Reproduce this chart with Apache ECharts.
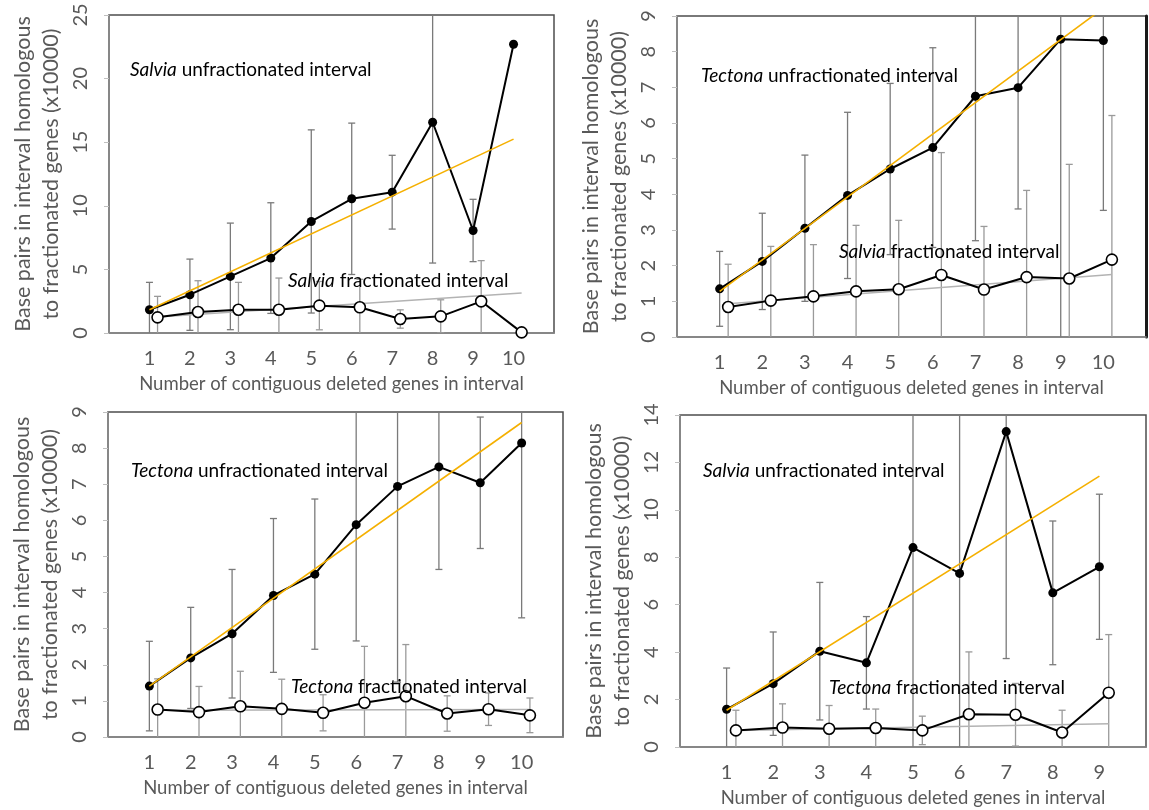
<!DOCTYPE html>
<html>
<head>
<meta charset="utf-8">
<script src="https://cdn.jsdelivr.net/npm/echarts@6/dist/echarts.min.js"></script>
<style>
html,body{margin:0;padding:0;background:#fff}
#main{width:1149px;height:810px}
</style>
</head>
<body>
<div id="main"></div>
<script>
// x categories: number of contiguous deleted genes
var cats10 = [1, 2, 3, 4, 5, 6, 7, 8, 9, 10];
var cats9 = [1, 2, 3, 4, 5, 6, 7, 8, 9];

// top left: Salvia unfractionated / Salvia fractionated (x10000 bp)
var aUnfrac    = [1.83, 3.01, 4.45, 5.89, 8.77, 10.55, 11.07, 16.57, 8.06, 22.70];
var aUnfracErr = [2.15, 2.80, 4.19, 4.35, 7.20, 5.95, 2.90, 11.07, 2.45, 0];
var aFrac      = [1.23, 1.65, 1.83, 1.83, 2.15, 2.02, 1.10, 1.31, 2.49, 0.05];
var aFracErr   = [1.65, 2.46, 2.15, 2.49, 1.90, 2.20, 0.72, 1.30, 3.20, 0];
var aOrange    = [1.83, 15.24];   // trend, first and last category
var aGray      = [1.25, 3.14];

// top right: Tectona unfractionated / Salvia fractionated
var bUnfrac    = [1.35, 2.12, 3.05, 3.97, 4.71, 5.31, 6.75, 6.99, 8.35, 8.31];
var bUnfracErr = [1.05, 1.35, 2.05, 2.33, 2.40, 2.80, 4.05, 3.40, 8.40, 4.76];
var bFrac      = [0.84, 1.02, 1.14, 1.28, 1.34, 1.74, 1.33, 1.68, 1.64, 2.17];
var bFracErr   = [1.20, 1.52, 1.45, 1.85, 1.93, 3.43, 1.77, 2.43, 3.20, 4.04];
var bOrange    = [1.28, 9.22];
var bGray      = [0.93, 1.75];

// bottom left: Tectona unfractionated / Tectona fractionated
var cUnfrac    = [1.41, 2.19, 2.86, 3.92, 4.51, 5.88, 6.94, 7.48, 7.04, 8.14];
var cUnfracErr = [1.24, 1.40, 1.78, 2.13, 2.08, 3.22, 5.42, 2.84, 1.82, 4.84];
var cFrac      = [0.76, 0.69, 0.85, 0.78, 0.67, 0.95, 1.13, 0.65, 0.77, 0.60];
var cFracErr   = [0.85, 0.71, 0.97, 0.82, 0.50, 1.56, 1.43, 0.49, 0.45, 0.48];
var cOrange    = [1.41, 8.71];
var cGray      = [0.74, 0.76];

// bottom right: Salvia unfractionated / Tectona fractionated
var dUnfrac    = [1.59, 2.67, 4.04, 3.55, 8.41, 7.32, 13.30, 6.50, 7.60];
var dUnfracErr = [1.74, 2.18, 2.90, 1.95, 8.60, 7.50, 9.57, 3.03, 3.06];
var dFrac      = [0.70, 0.82, 0.77, 0.80, 0.70, 1.38, 1.36, 0.61, 2.29];
var dFracErr   = [0.85, 1.00, 0.98, 0.80, 0.60, 2.63, 1.32, 0.94, 2.45];
var dOrange    = [1.55, 11.42];
var dGray      = [0.70, 0.98];

var yName = 'Base pairs in interval homologous\nto fractionated genes (x10000)';
var xName = 'Number of contiguous deleted genes in interval';
var FONT = 'Lato, "Open Sans", sans-serif';
var GREY_TXT = '#595959';
var FRAC_SHIFT = 0.2;  // open-circle series sits a bit right of the category

var panels = [
    {grid: {left: 109, top: 15, width: 445, height: 318}, yMax: 25, yStep: 5, xMax: 11, cats: cats10,
     unfrac: aUnfrac, unfracErr: aUnfracErr, frac: aFrac, fracErr: aFracErr, orange: aOrange, gray: aGray},
    {grid: {left: 677, top: 16, width: 470, height: 321}, yMax: 9, yStep: 1, xMax: 11, cats: cats10,
     unfrac: bUnfrac, unfracErr: bUnfracErr, frac: bFrac, fracErr: bFracErr, orange: bOrange, gray: bGray, thickRight: true},
    {grid: {left: 108, top: 412, width: 455, height: 325}, yMax: 9, yStep: 1, xMax: 11, cats: cats10,
     unfrac: cUnfrac, unfracErr: cUnfracErr, frac: cFrac, fracErr: cFracErr, orange: cOrange, gray: cGray},
    {grid: {left: 680, top: 415, width: 474, height: 332}, yMax: 14, yStep: 2, xMax: 10, cats: cats9,
     unfrac: dUnfrac, unfracErr: dUnfracErr, frac: dFrac, fracErr: dFracErr, orange: dOrange, gray: dGray}
];

// text notes, italic genus first
var notes = [
    {genus: 'Salvia', rest: ' unfractionated interval', x: 130, y: 72},
    {genus: 'Salvia', rest: ' fractionated interval', x: 288, y: 283},
    {genus: 'Tectona', rest: ' unfractionated interval', x: 701, y: 78},
    {genus: 'Salvia', rest: ' fractionated interval', x: 839, y: 254},
    {genus: 'Tectona', rest: ' unfractionated interval', x: 131, y: 473},
    {genus: 'Tectona', rest: ' fractionated interval', x: 291, y: 689},
    {genus: 'Salvia', rest: ' unfractionated interval', x: 703, y: 473},
    {genus: 'Tectona', rest: ' fractionated interval', x: 829, y: 690}
];

function errorBars(color) {
    return function (params, api) {
        var x = api.value(0);
        var top = api.coord([x, api.value(2)]);
        var bot = api.coord([x, api.value(1)]);
        var w = 3.5;
        var st = {stroke: color, lineWidth: 1.3};
        return {
            type: 'group',
            children: [
                {type: 'line', shape: {x1: top[0], y1: top[1], x2: bot[0], y2: bot[1]}, style: st},
                {type: 'line', shape: {x1: top[0] - w, y1: top[1], x2: top[0] + w, y2: top[1]}, style: st},
                {type: 'line', shape: {x1: bot[0] - w, y1: bot[1], x2: bot[0] + w, y2: bot[1]}, style: st}
            ]
        };
    };
}

var grids = [], xAxes = [], yAxes = [], series = [];

panels.forEach(function (p, k) {
    grids.push(Object.assign({show: true, borderColor: '#4d4d4d', borderWidth: 1.5, backgroundColor: '#fff'}, p.grid));
    var last = p.cats[p.cats.length - 1];
    xAxes.push({
        type: 'value', gridIndex: k, min: 0, max: p.xMax, interval: 1,
        name: xName, nameLocation: 'middle', nameGap: 42,
        nameTextStyle: {fontFamily: FONT, fontSize: 18.5, color: GREY_TXT},
        axisLine: {lineStyle: {color: '#8c8c8c', width: 1.5}},
        axisTick: {show: false},
        splitLine: {show: false},
        axisLabel: {
            fontFamily: FONT, fontSize: 20, color: GREY_TXT, margin: 16,
            formatter: function (v) { return (v >= 1 && v <= last) ? String(v) : ''; }
        }
    });
    var yIdx = yAxes.length;
    yAxes.push({
        type: 'value', gridIndex: k, min: 0, max: p.yMax, interval: p.yStep,
        name: yName, nameLocation: 'middle', nameGap: 44,
        nameTextStyle: {fontFamily: FONT, fontSize: 21.5, color: GREY_TXT, lineHeight: 28},
        axisLine: {show: true, lineStyle: {color: '#8c8c8c', width: 1.5}},
        axisTick: {show: true, length: 5, lineStyle: {color: '#bfbfbf'}},
        splitLine: {show: false},
        axisLabel: {rotate: 90, fontFamily: FONT, fontSize: 20, color: GREY_TXT, margin: 18}
    });
    if (p.thickRight) {
        yAxes.push({
            type: 'value', gridIndex: k, position: 'right', min: 0, max: p.yMax,
            axisLine: {show: true, lineStyle: {color: '#1a1a1a', width: 3}},
            axisTick: {show: false}, axisLabel: {show: false}, splitLine: {show: false}
        });
    }

    var unfracErr = [], fracErr = [], unfracPts = [], fracPts = [];
    p.cats.forEach(function (c, i) {
        unfracPts.push([c, p.unfrac[i]]);
        fracPts.push([c + FRAC_SHIFT, p.frac[i]]);
        if (p.unfracErr[i] > 0) unfracErr.push([c, p.unfrac[i] - p.unfracErr[i], p.unfrac[i] + p.unfracErr[i]]);
        if (p.fracErr[i] > 0) fracErr.push([c + FRAC_SHIFT, p.frac[i] - p.fracErr[i], p.frac[i] + p.fracErr[i]]);
    });

    series.push({
        type: 'custom', xAxisIndex: k, yAxisIndex: yIdx, clip: true, z: 1, silent: true,
        renderItem: errorBars('#7a7a7a'), data: unfracErr
    });
    series.push({
        type: 'custom', xAxisIndex: k, yAxisIndex: yIdx, clip: true, z: 1, silent: true,
        renderItem: errorBars('#9a9a9a'), data: fracErr
    });
    series.push({
        type: 'line', xAxisIndex: k, yAxisIndex: yIdx, z: 2, symbol: 'none', silent: true,
        lineStyle: {color: '#b3b3b3', width: 1.5},
        data: [[p.cats[0] + FRAC_SHIFT, p.gray[0]], [last + FRAC_SHIFT, p.gray[1]]]
    });
    series.push({
        type: 'line', xAxisIndex: k, yAxisIndex: yIdx, z: 3, symbol: 'circle', symbolSize: 9,
        lineStyle: {color: '#000', width: 2},
        itemStyle: {color: '#000'},
        data: unfracPts
    });
    series.push({
        type: 'line', xAxisIndex: k, yAxisIndex: yIdx, z: 4, symbol: 'none', silent: true,
        lineStyle: {color: '#f5b000', width: 1.6},
        data: [[p.cats[0], p.orange[0]], [last, p.orange[1]]]
    });
    series.push({
        type: 'line', xAxisIndex: k, yAxisIndex: yIdx, z: 5, symbol: 'circle', symbolSize: 11,
        lineStyle: {color: '#000', width: 2},
        itemStyle: {color: '#fff', borderColor: '#000', borderWidth: 1.6},
        data: fracPts
    });
});

var graphics = notes.map(function (n) {
    return {
        type: 'text', left: n.x, top: n.y - 12, z: 100,
        style: {
            text: '{i|' + n.genus + '}' + n.rest,
            fontFamily: FONT, fontSize: 19, fill: '#000',
            rich: {i: {fontFamily: FONT, fontSize: 19, fontStyle: 'italic', fill: '#000'}}
        }
    };
});

var chart = echarts.init(document.getElementById('main'), null, {renderer: 'canvas'});
chart.setOption({
    backgroundColor: '#fff',
    animation: false,
    grid: grids,
    xAxis: xAxes,
    yAxis: yAxes,
    series: series,
    graphic: graphics
});
window.onresize = function () { chart.resize(); };
</script>
</body>
</html>
